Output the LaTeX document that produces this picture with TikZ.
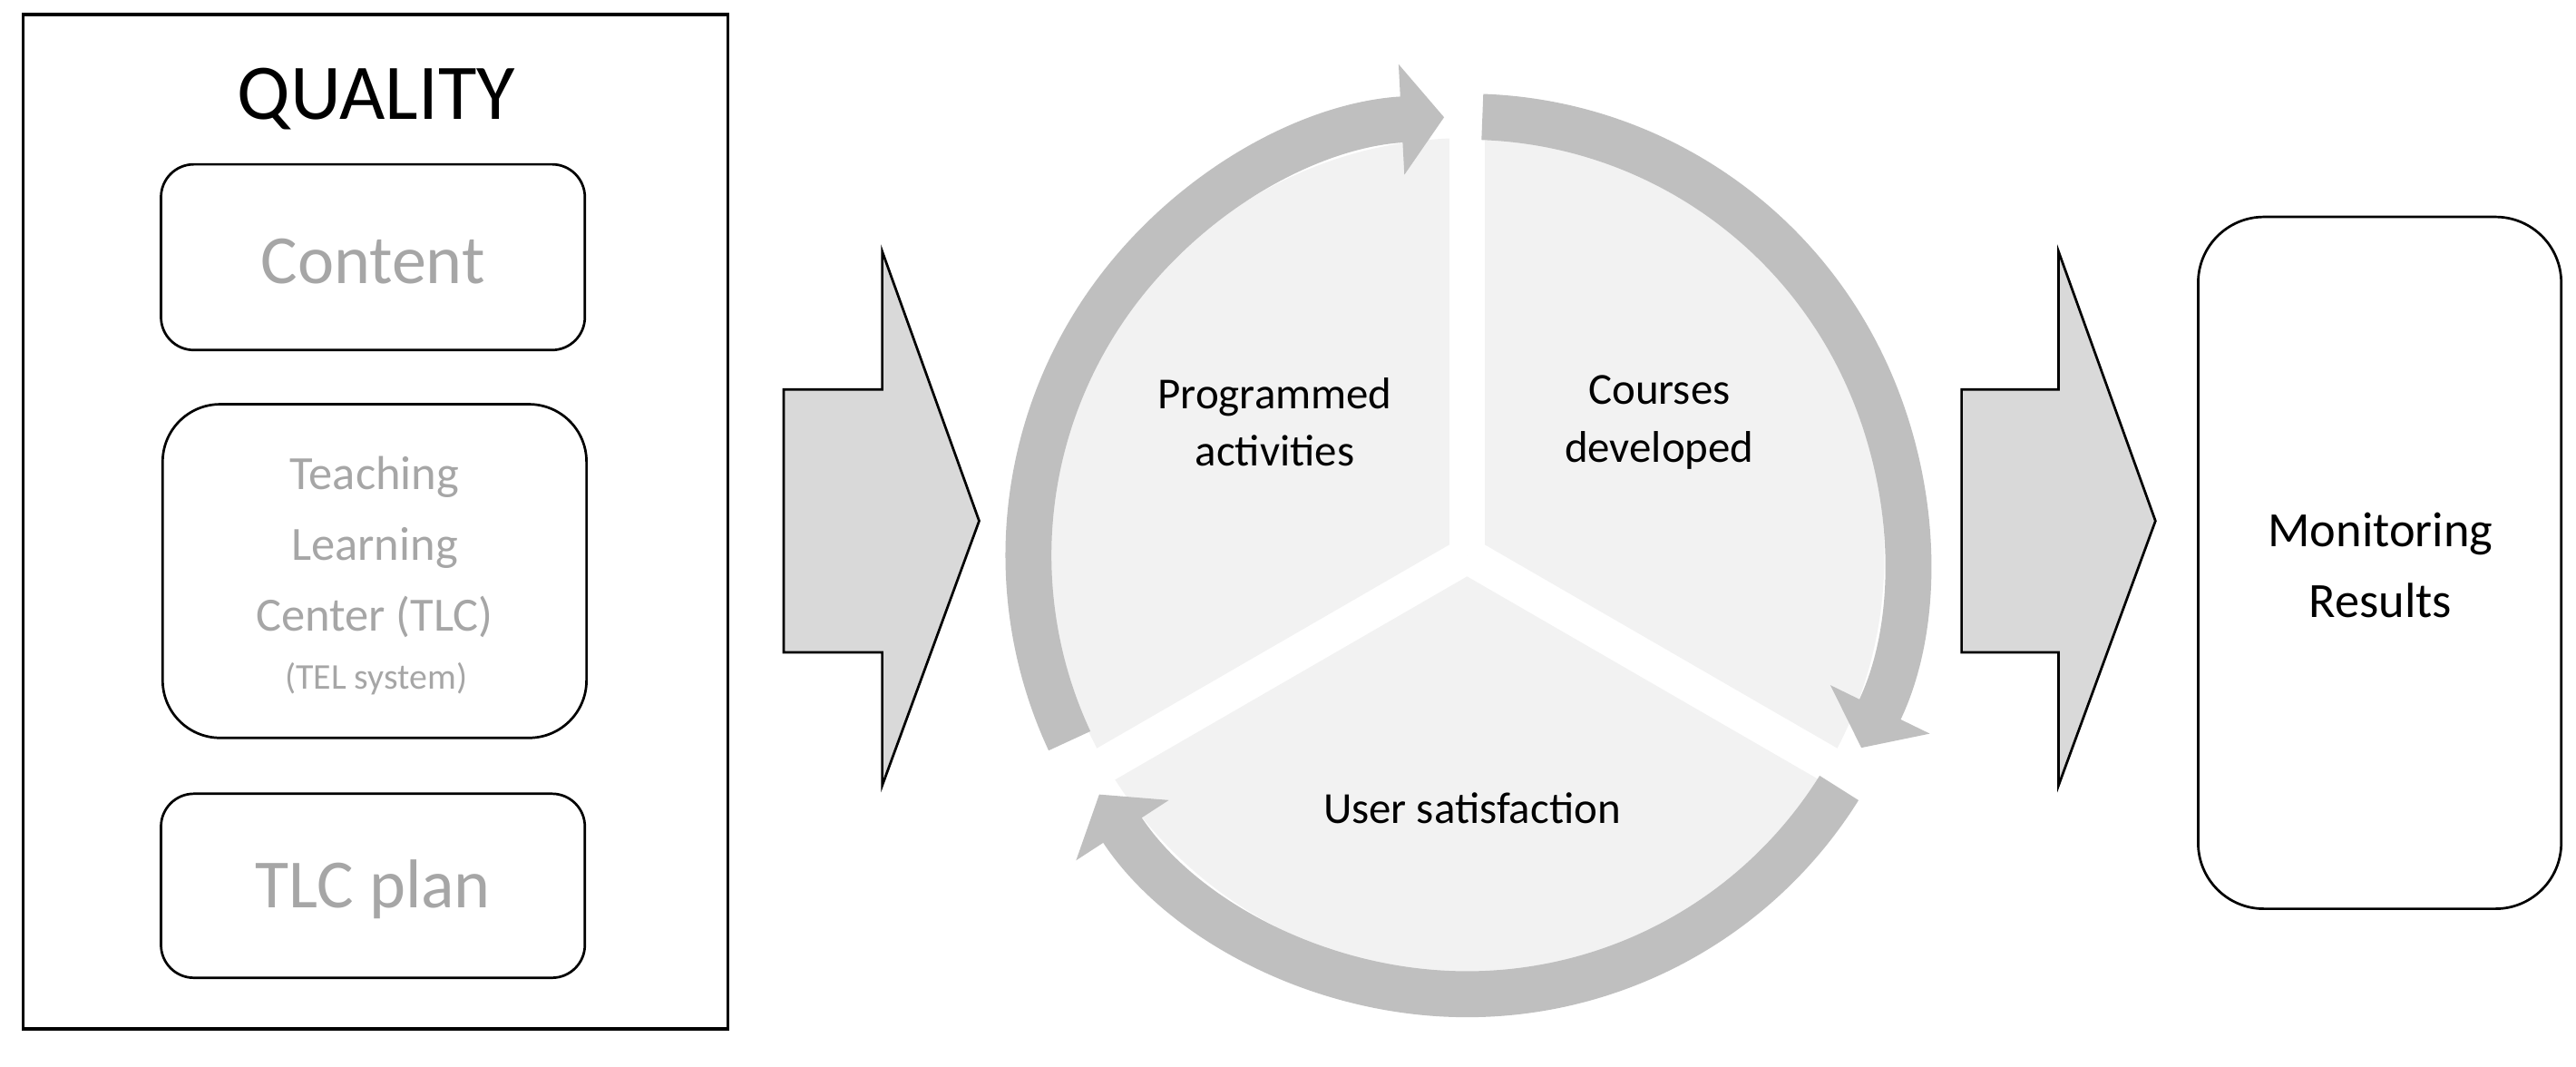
\documentclass[tikz,border=0pt]{standalone}
\usepackage{fontspec}
\setmainfont{Carlito}
\usetikzlibrary{arrows.meta,calc}
\definecolor{gtext}{HTML}{A6A6A6}
\definecolor{ringc}{HTML}{BFBFBF}
\definecolor{sectc}{HTML}{F2F2F2}
\definecolor{arrc}{HTML}{D9D9D9}
\tikzset{
  rbox/.style={draw=black,line width=1.5pt,rounded corners=#1},
  gt/.style={text=gtext,align=center,inner sep=0pt},
  bigarrow/.style={draw=black,line width=1.5pt,fill=arrc,line join=miter},
  ringarc/.style={draw=ringc,line width=28pt,-{Triangle[length=26pt,width=66pt]}},
  lbl/.style={align=center,font=\fontsize{27}{35}\selectfont}
}
\begin{document}
\begin{tikzpicture}[x=1pt,y=1pt]
\useasboundingbox (0,0) rectangle (1568,649);
% left panel
\draw[line width=2pt] (14,23) rectangle (443,640);
\node[font=\fontsize{48}{50}\selectfont] (q) at (229,589) {QUALITY};
\draw[rbox=20pt] (98,436) rectangle (356,549);
\node[gt,font=\fontsize{42}{44}\selectfont] (c) at (227,490) {Content};
\draw[rbox=35pt] (99,200) rectangle (357,403);
\node[gt,font=\fontsize{29}{43}\selectfont] (t) at (228,316) {Teaching\\Learning\\Center (TLC)};
\node[gt,font=\fontsize{22}{24}\selectfont] (t2) at (229,236) {(TEL system)};
\draw[rbox=20pt] (98,54) rectangle (356,166);
\node[gt,font=\fontsize{42}{44}\selectfont] (p) at (227,108) {TLC plan};
% arrows
\draw[bigarrow] (477,412) -- (537,412) -- (537,496) -- (596,332) -- (537,171) -- (537,252) -- (477,252) -- cycle;
\draw[bigarrow] (1194,412) -- (1253,412) -- (1253,496) -- (1312,332) -- (1253,171) -- (1253,252) -- (1194,252) -- cycle;
% monitoring
\draw[rbox=40pt] (1338,96) rectangle (1559,517);
\node[align=center,font=\fontsize{30}{43}\selectfont] (m) at (1449,305) {Monitoring\\Results};
% cycle
\coordinate (o) at (893,311);
\fill[sectc] (o) circle[radius=254];
\draw[white,line width=22pt] (o) -- ++(90:265);
\draw[white,line width=22pt] (o) -- ++(210:265);
\draw[white,line width=22pt] (o) -- ++(330:265);
\draw[ringarc] ($(o)+(205:267)$) arc[start angle=205,end angle=93,radius=267];
\draw[ringarc] ($(o)+(88:267)$) arc[start angle=88,end angle=-26,radius=267];
\draw[ringarc] ($(o)+(-32:267)$) arc[start angle=-32,end angle=-147,radius=267];
\node[lbl] (pa) at (776,392) {Programmed\\activities};
\node[lbl] (cd) at (1010,392) {Courses\\developed};
\node[lbl] (us) at (896,157) {User satisfaction};
\end{tikzpicture}
\end{document}
